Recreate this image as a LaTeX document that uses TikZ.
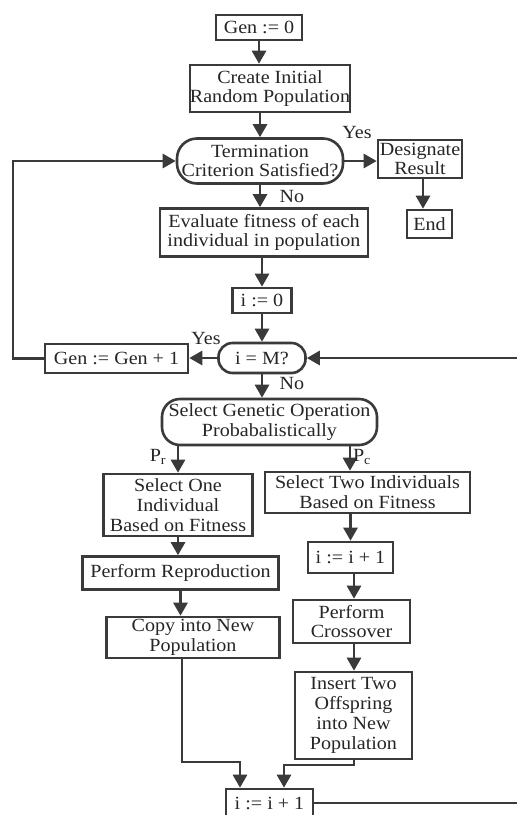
\documentclass[tikz,border=0pt]{standalone}
\usepackage{fontspec}
\setmainfont[FakeStretch=1.08]{Liberation Serif}
\usetikzlibrary{arrows.meta}
\definecolor{ink}{HTML}{3A3A3A}
\definecolor{txt}{HTML}{262626}
\begin{document}
\begin{tikzpicture}[x=1pt,y=-1pt,
  box/.style={draw=ink,line width=2.6pt,rectangle,inner sep=0pt,align=center,
    font=\fontsize{18.6}{19.8}\selectfont,text=txt},
  rbox/.style={box,rounded corners=#1},
  arr/.style={draw=ink,line width=2.8pt,-{Triangle[length=13pt,width=14pt]}},
  ln/.style={draw=ink,line width=2.8pt},
  lbl/.style={font=\fontsize{18.6}{19.8}\selectfont,text=txt,inner sep=0pt}]
\useasboundingbox[fill=white] (0,0) rectangle (517,815);
% nodes
\node[box,minimum width=86pt,minimum height=25pt] (gen0) at (259,27.5) {Gen := 0};
\node[box,minimum width=150pt,minimum height=47pt] (create) at (270,88.5) {Create Initial\\Random Population};
\node[rbox=20pt,minimum width=166pt,minimum height=45pt] (term) at (260,161) {Termination\\Criterion Satisfied?};
\node[box,minimum width=84pt,minimum height=38pt] (des) at (420,159) {Designate\\Result};
\node[box,minimum width=45pt,minimum height=28pt] (endn) at (429.5,224) {End};
\node[box,minimum width=208pt,minimum height=48pt] (eval) at (264,232.5) {Evaluate fitness of each\\individual in population};
\node[box,minimum width=59pt,minimum height=25pt] (i0) at (262,300.5) {i := 0};
\node[rbox=14pt,minimum width=87pt,minimum height=30pt] (iM) at (262,358) {i = M?};
\node[box,minimum width=143pt,minimum height=29pt] (genp) at (116.5,358.5) {Gen := Gen + 1};
\node[rbox=18pt,minimum width=215pt,minimum height=46pt] (sel) at (269.5,422) {Select Genetic Operation\\Probabalistically};
\node[box,minimum width=149pt,minimum height=62pt] (one) at (178,505) {Select One\\Individual\\Based on Fitness};
\node[box,minimum width=205pt,minimum height=41pt] (two) at (367.5,492.5) {Select Two Individuals\\Based on Fitness};
\node[box,minimum width=85pt,minimum height=31pt] (ii1) at (350.5,557.5) {i := i + 1};
\node[box,minimum width=196pt,minimum height=33pt] (repro) at (180.5,573) {Perform Reproduction};
\node[box,minimum width=173pt,minimum height=41pt] (copy) at (193,637.5) {Copy into New\\Population};
\node[box,minimum width=117pt,minimum height=43pt] (cross) at (351.5,621.5) {Perform\\Crossover};
\node[box,minimum width=117pt,minimum height=87pt] (insert) at (353.5,715.5) {Insert Two\\Offspring\\into New\\Population};
\node[box,minimum width=87pt,minimum height=28pt] (ii2) at (269.5,803) {i := i + 1};
% helper coordinates
\coordinate (lx) at (13,0);
\coordinate (rx) at (517,0);
\coordinate (xd) at (423,0);
\coordinate (xl) at (178,0);
\coordinate (xr) at (350,0);
\coordinate (xc) at (354,0);
\coordinate (xa) at (182,0);
\coordinate (xb) at (240,0);
\coordinate (xe) at (284,0);
\coordinate (ya) at (0,762);
\coordinate (yb) at (0,765);
% connectors
\draw[arr] (gen0.south) -- (gen0.south |- create.north);
\draw[arr] (create.south -| term.north) -- (term.north);
\draw[arr] (term.east) -- (term.east -| des.west);
\node[lbl] (yes1) at (357,132) {Yes};
\draw[arr] (xd |- des.south) -- (xd |- endn.north);
\draw[arr] (term.south) -- (term.south |- eval.north);
\node[lbl] (no1) at (292,196) {No};
\draw[arr] (i0.north |- eval.south) -- (i0.north);
\draw[arr] (i0.south) -- (iM.north);
\draw[arr] (iM.west) -- (iM.west -| genp.east);
\node[lbl] (yes2) at (206,338) {Yes};
\draw[arr] (genp.west) -- (genp.west -| lx) |- (term.west);
\draw[arr] (iM.east -| rx) -- (iM.east);
\draw[arr] (iM.south) -- (iM.south |- sel.north);
\node[lbl] (no2) at (292,383) {No};
\draw[arr] (xl |- sel.south) -- (xl |- one.north);
\node[lbl] (pr) at (158,457) {P\textsubscript{r}};
\draw[arr] (xr |- sel.south) -- (xr |- two.north);
\node[lbl] (pc) at (362,457) {P\textsubscript{c}};
\draw[arr] (one.south) -- (one.south |- repro.north);
\draw[arr] (repro.south) -- (repro.south |- copy.north);
\draw[arr] (ii1.north |- two.south) -- (ii1.north);
\draw[arr] (xc |- ii1.south) -- (xc |- cross.north);
\draw[arr] (xc |- cross.south) -- (xc |- insert.north);
\draw[arr] (xa |- copy.south) -- (xa |- ya) -- (xb |- ya) -- (xb |- ii2.north);
\draw[arr] (xc |- insert.south) -- (xc |- yb) -- (xe |- yb) -- (xe |- ii2.north);
\draw[ln] (ii2.east) -- (ii2.east -| rx);
\end{tikzpicture}
\end{document}
